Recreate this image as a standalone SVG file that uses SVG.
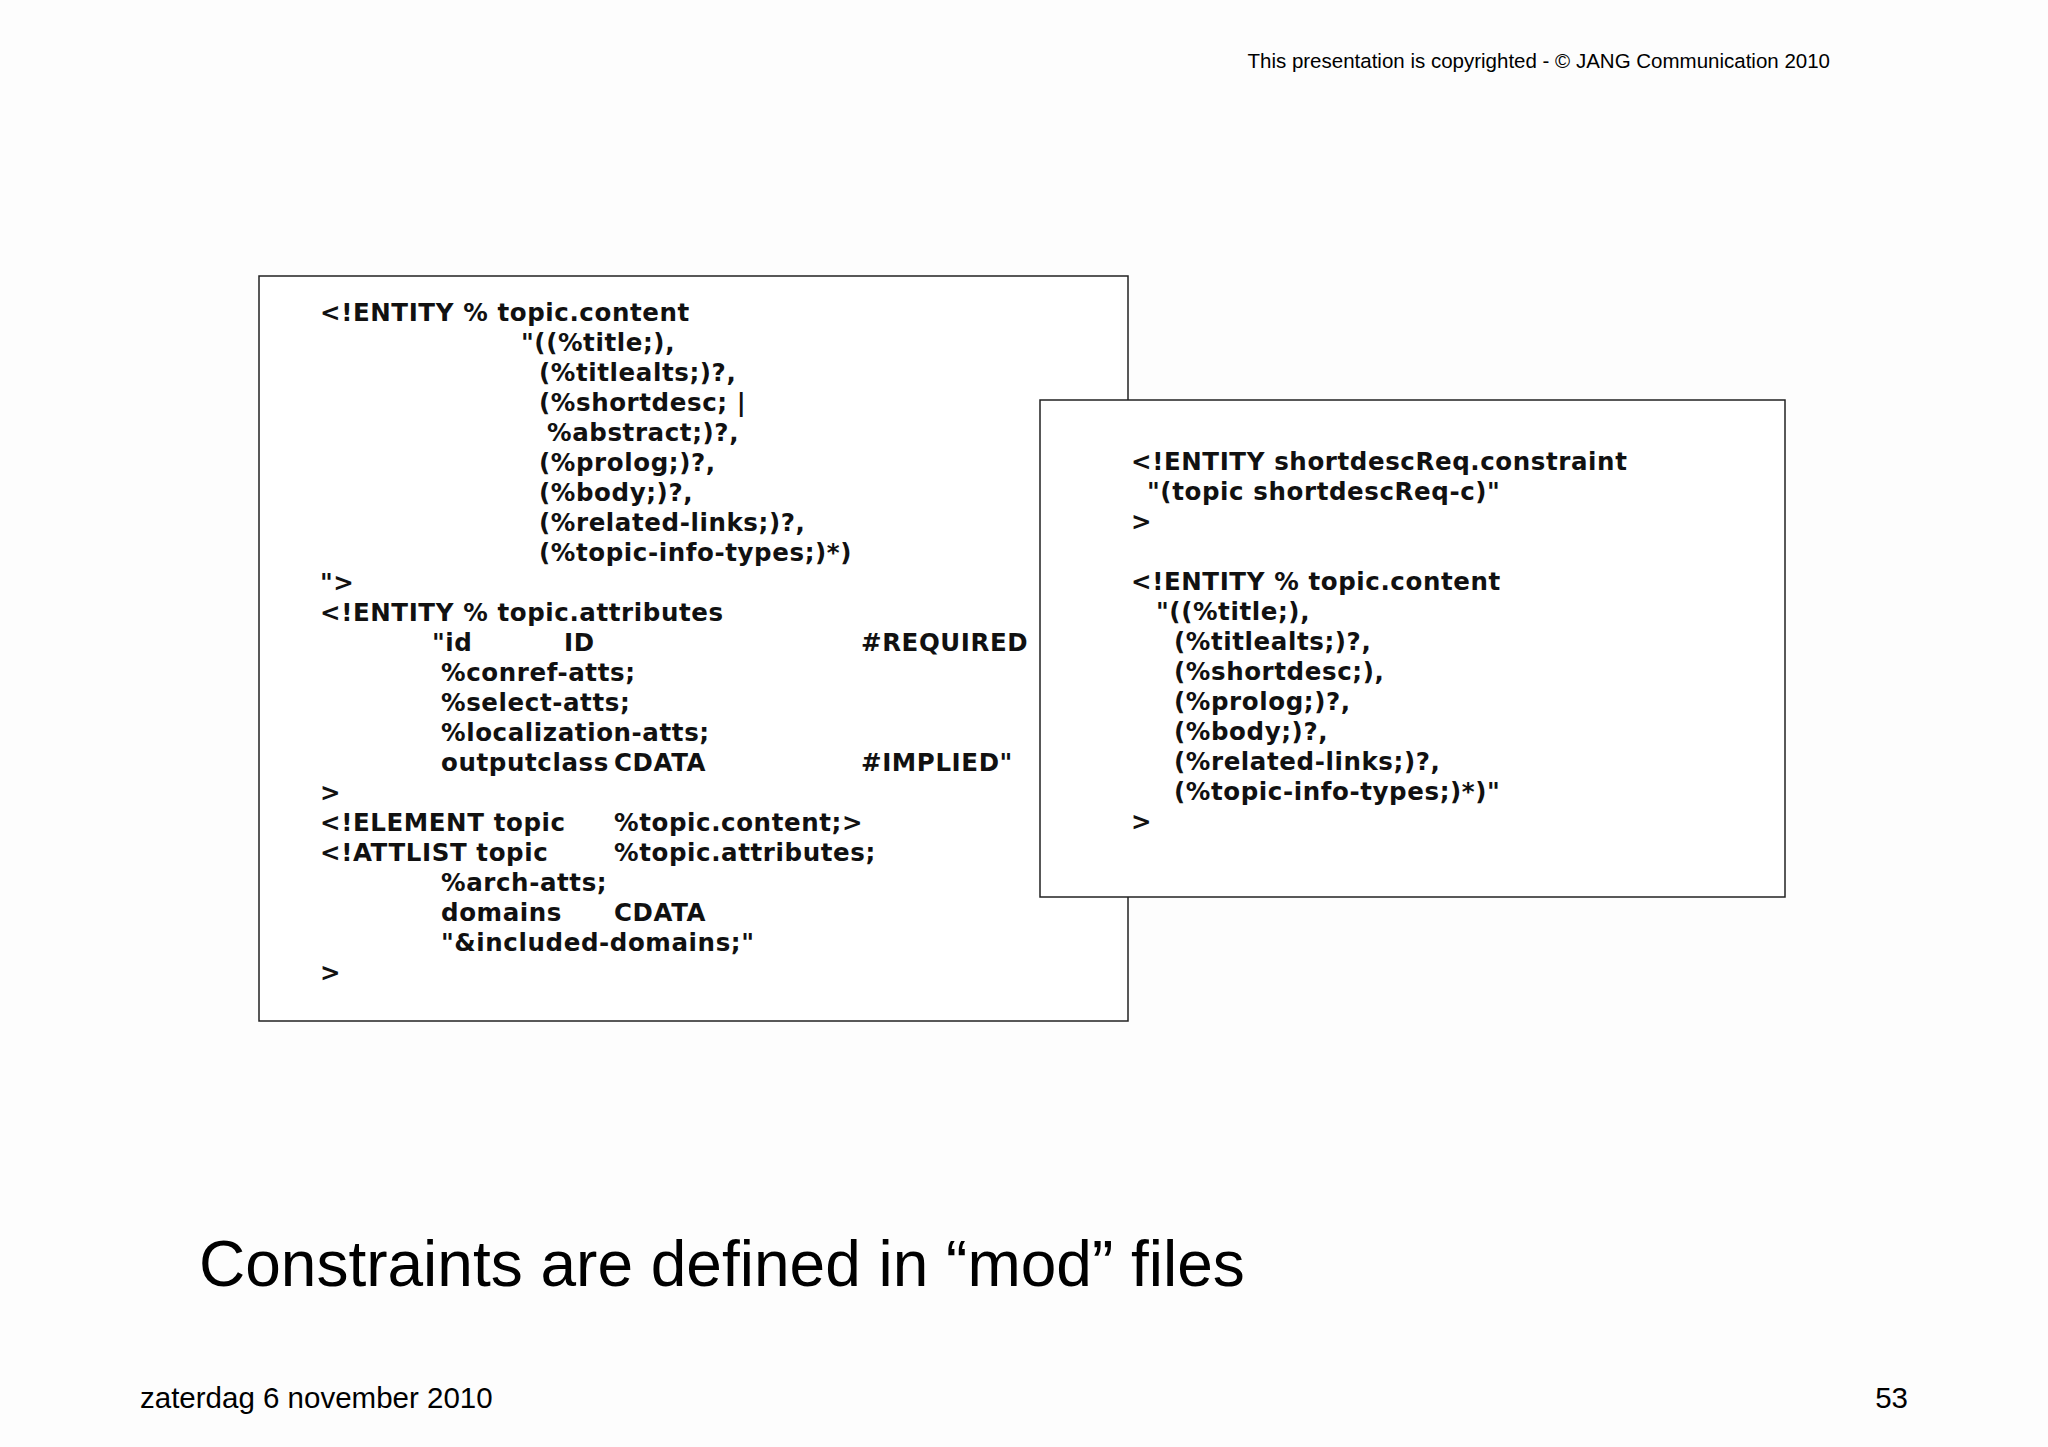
<svg xmlns="http://www.w3.org/2000/svg" width="2048" height="1447" viewBox="0 0 2048 1447">
<style>
.c{font-family:"DejaVu Sans","Liberation Sans",sans-serif;font-weight:bold;font-size:24.5px;letter-spacing:0.6px;fill:#111}
.h{font-family:"Liberation Sans",Arial,sans-serif;fill:#000}
.box{fill:#fff;stroke:#222;stroke-width:1.5}
</style>
<rect width="2048" height="1447" fill="#fdfdfd"/>
<text class="h" x="1830" y="68" font-size="20.5" text-anchor="end">This presentation is copyrighted - © JANG Communication 2010</text>
<g id="left">
<rect class="box" x="259" y="276" width="869" height="745"/>
<text class="c" x="320" y="321">&lt;!ENTITY % topic.content</text>
<text class="c" x="521" y="351">"((%title;),</text>
<text class="c" x="539" y="381">(%titlealts;)?,</text>
<text class="c" x="539" y="411">(%shortdesc; |</text>
<text class="c" x="547" y="441">%abstract;)?,</text>
<text class="c" x="539" y="471">(%prolog;)?,</text>
<text class="c" x="539" y="501">(%body;)?,</text>
<text class="c" x="539" y="531">(%related-links;)?,</text>
<text class="c" x="539" y="561">(%topic-info-types;)*)</text>
<text class="c" x="320" y="591">"&gt;</text>
<text class="c" x="320" y="621">&lt;!ENTITY % topic.attributes</text>
<text class="c" x="432" y="651">"id</text><text class="c" x="564" y="651">ID</text><text class="c" x="861" y="651">#REQUIRED</text>
<text class="c" x="441" y="681">%conref-atts;</text>
<text class="c" x="441" y="711">%select-atts;</text>
<text class="c" x="441" y="741">%localization-atts;</text>
<text class="c" x="441" y="771">outputclass</text><text class="c" x="614" y="771">CDATA</text><text class="c" x="861" y="771">#IMPLIED"</text>
<text class="c" x="320" y="801">&gt;</text>
<text class="c" x="320" y="831">&lt;!ELEMENT topic</text><text class="c" x="614" y="831">%topic.content;&gt;</text>
<text class="c" x="320" y="861">&lt;!ATTLIST topic</text><text class="c" x="614" y="861">%topic.attributes;</text>
<text class="c" x="441" y="891">%arch-atts;</text>
<text class="c" x="441" y="921">domains</text><text class="c" x="614" y="921">CDATA</text>
<text class="c" x="441" y="951">"&amp;included-domains;"</text>
<text class="c" x="320" y="981">&gt;</text>
</g>
<g id="right">
<rect class="box" x="1040" y="400" width="745" height="497"/>
<text class="c" x="1131" y="470">&lt;!ENTITY shortdescReq.constraint</text>
<text class="c" x="1147" y="500">"(topic shortdescReq-c)"</text>
<text class="c" x="1131" y="530">&gt;</text>
<text class="c" x="1131" y="590">&lt;!ENTITY % topic.content</text>
<text class="c" x="1156" y="620">"((%title;),</text>
<text class="c" x="1174" y="650">(%titlealts;)?,</text>
<text class="c" x="1174" y="680">(%shortdesc;),</text>
<text class="c" x="1174" y="710">(%prolog;)?,</text>
<text class="c" x="1174" y="740">(%body;)?,</text>
<text class="c" x="1174" y="770">(%related-links;)?,</text>
<text class="c" x="1174" y="800">(%topic-info-types;)*)"</text>
<text class="c" x="1131" y="830">&gt;</text>
</g>
<text class="h" x="199" y="1286" font-size="64">Constraints are defined in “mod” files</text>
<text class="h" x="140" y="1408" font-size="29.5">zaterdag 6 november 2010</text>
<text class="h" x="1908" y="1408" font-size="29.5" text-anchor="end">53</text>
</svg>
